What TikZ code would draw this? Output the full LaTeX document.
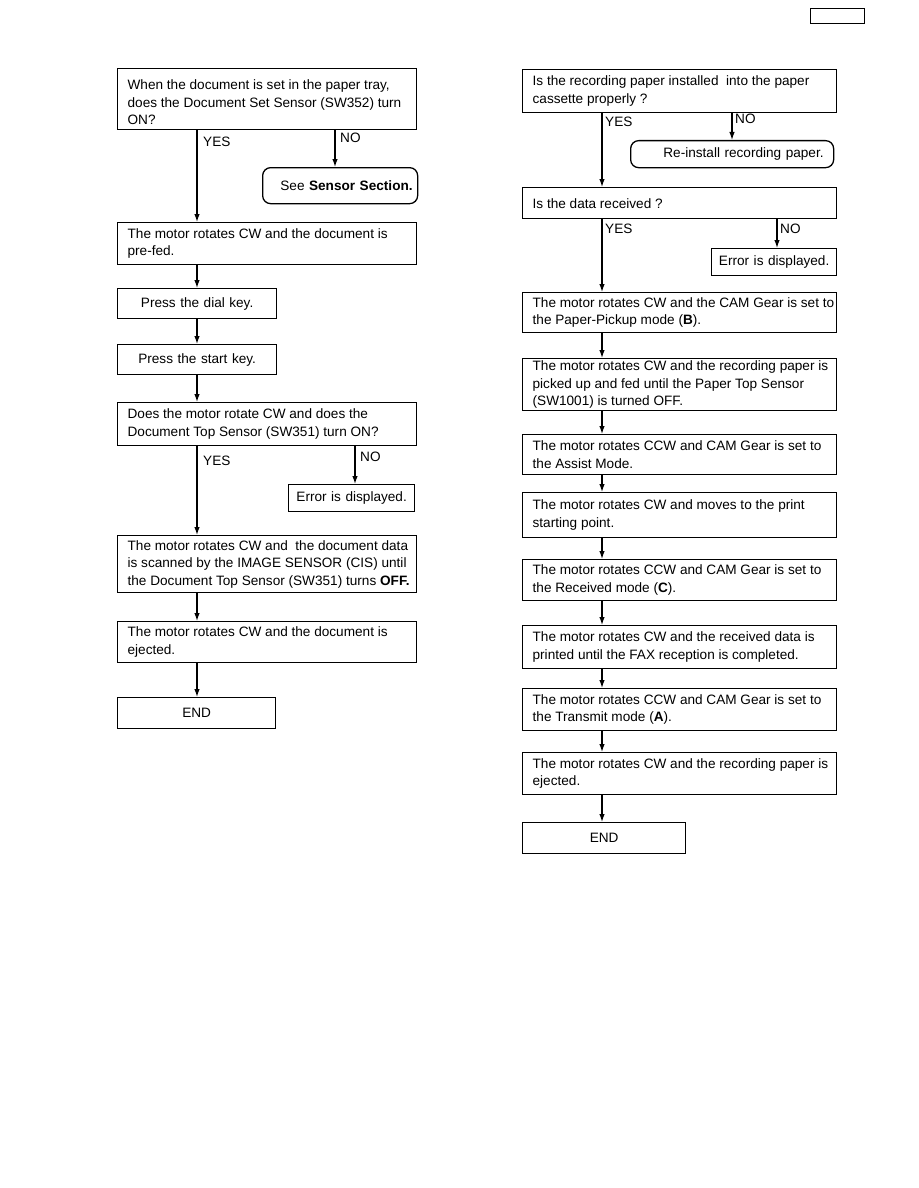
\documentclass[tikz,border=0pt]{standalone}
\usepackage{fontspec}
\setmainfont{Liberation Sans}
\usetikzlibrary{arrows.meta}
\newcommand\bt[2]{\hspace*{10pt}\parbox{#1}{\raggedright #2}}
\tikzset{
  box/.style={draw, line width=1.3pt, inner xsep=0pt, inner ysep=1pt, anchor=north west,
    font=\fontsize{13.6}{17.5}\selectfont},
  cbox/.style={draw, line width=1.3pt, inner xsep=0pt, inner ysep=1pt, anchor=north west, align=center,
    font=\fontsize{13.6}{17.5}\selectfont},
  rbox/.style={draw, line width=1.3pt, rounded corners=8pt, inner xsep=0pt, inner ysep=1pt, anchor=north west, align=right,
    font=\fontsize{13.6}{17.5}\selectfont},
  lbl/.style={anchor=west, inner sep=0pt, font=\fontsize{13.6}{17.5}\selectfont},
  arr/.style={-{Latex[length=8pt,width=5.5pt]}, line width=1.2pt}
}
\begin{document}
\begin{tikzpicture}[x=1pt,y=-1pt]
\useasboundingbox (0,0) rectangle (918,1188);
% header box
\node[draw, line width=1.2pt, anchor=north west, minimum width=54pt, minimum height=15pt, inner sep=0pt] (hdr) at (810,8) {};

% ---------------- left column ----------------
\node[box, minimum width=299pt, minimum height=61pt] (b1) at (117,68)
  {\bt{289pt}{\vspace*{6pt}When the document is set in the paper tray,\\does the Document Set Sensor (SW352) turn\\ON?}};
\node[rbox, text width=145pt, minimum width=155pt, minimum height=36pt] (s1) at (262,167)
  {See \textbf{Sensor Section.}};
\node[box, minimum width=299pt, minimum height=42pt] (b2) at (117,222)
  {\bt{289pt}{The motor rotates CW and the document is\\pre-fed.}};
\node[cbox, text width=159pt, minimum height=30pt] (b3) at (117,288) {Press the dial key.};
\node[cbox, text width=159pt, minimum height=30pt] (b4) at (117,344) {Press the start key.};
\node[box, minimum width=299pt, minimum height=43pt] (b5) at (117,402)
  {\bt{289pt}{Does the motor rotate CW and does the\\Document Top Sensor (SW351) turn ON?}};
\node[cbox, text width=126pt, minimum height=27pt] (e1) at (288,484) {Error is displayed.};
\node[box, minimum width=299pt, minimum height=57pt] (b6) at (117,535)
  {\bt{289pt}{The motor rotates CW and \ the document data\\is scanned by the IMAGE SENSOR (CIS) until\\the Document Top Sensor (SW351) turns \textbf{OFF.}}};
\node[box, minimum width=299pt, minimum height=41pt] (b7) at (117,621)
  {\bt{289pt}{The motor rotates CW and the document is\\ejected.}};
\node[cbox, text width=158pt, minimum height=31pt] (end1) at (117,697) {END};

\draw[arr] ([xshift=80pt]b1.south west) -- ([xshift=80pt]b1.south west |- b2.north);
\draw[arr] ([xshift=218pt]b1.south west) -- ([xshift=218pt]b1.south west |- s1.north);
\draw[arr] ([xshift=80pt]b2.south west) -- ([xshift=80pt]b2.south west |- b3.north);
\draw[arr] ([xshift=80pt]b3.south west) -- ([xshift=80pt]b3.south west |- b4.north);
\draw[arr] ([xshift=80pt]b4.south west) -- ([xshift=80pt]b4.south west |- b5.north);
\draw[arr] ([xshift=80pt]b5.south west) -- ([xshift=80pt]b5.south west |- b6.north);
\draw[arr] ([xshift=238pt]b5.south west) -- ([xshift=238pt]b5.south west |- e1.north);
\draw[arr] ([xshift=80pt]b6.south west) -- ([xshift=80pt]b6.south west |- b7.north);
\draw[arr] ([xshift=80pt]b7.south west) -- ([xshift=80pt]b7.south west |- end1.north);

\node[lbl] (y1) at (203,142) {YES};
\node[lbl] (n1) at (340,138) {NO};
\node[lbl] (y2) at (203,461) {YES};
\node[lbl] (n2) at (360,457) {NO};

% ---------------- right column ----------------
\node[box, minimum width=314pt, minimum height=43pt] (r1) at (522,69)
  {\bt{304pt}{Is the recording paper installed \ into the paper\\cassette properly ?}};
\node[rbox, text width=183pt, minimum width=203pt, minimum height=27pt] (rr) at (630,140)
  {Re-install recording paper.};
\node[box, minimum width=314pt, minimum height=31pt] (r2) at (522,187)
  {\bt{304pt}{Is the data received ?}};
\node[cbox, text width=125pt, minimum height=27pt] (e2) at (711,248) {Error is displayed.};
\node[box, minimum width=314pt, minimum height=40pt] (r3) at (522,292)
  {\bt{304pt}{The motor rotates CW and the CAM Gear is set to\\the Paper-Pickup mode (\textbf{B}).}};
\node[box, minimum width=314pt, minimum height=52pt] (r4) at (522,358)
  {\bt{304pt}{The motor rotates CW and the recording paper is\\picked up and fed until the Paper Top Sensor\\(SW1001) is turned OFF.}};
\node[box, minimum width=314pt, minimum height=40pt] (r5) at (522,434)
  {\bt{304pt}{The motor rotates CCW and CAM Gear is set to\\the Assist Mode.}};
\node[box, minimum width=314pt, minimum height=45pt] (r6) at (522,492)
  {\bt{304pt}{The motor rotates CW and moves to the print\\starting point.}};
\node[box, minimum width=314pt, minimum height=41pt] (r7) at (522,559)
  {\bt{304pt}{The motor rotates CCW and CAM Gear is set to\\the Received mode (\textbf{C}).}};
\node[box, minimum width=314pt, minimum height=43pt] (r8) at (522,625)
  {\bt{304pt}{The motor rotates CW and the received data is\\printed until the FAX reception is completed.}};
\node[box, minimum width=314pt, minimum height=42pt] (r9) at (522,688)
  {\bt{304pt}{The motor rotates CCW and CAM Gear is set to\\the Transmit mode (\textbf{A}).}};
\node[box, minimum width=314pt, minimum height=42pt] (r10) at (522,752)
  {\bt{304pt}{The motor rotates CW and the recording paper is\\ejected.}};
\node[cbox, text width=163pt, minimum height=31pt] (end2) at (522,822) {END};

\draw[arr] ([xshift=80pt]r1.south west) -- ([xshift=80pt]r1.south west |- r2.north);
\draw[arr] ([xshift=210pt]r1.south west) -- ([xshift=210pt]r1.south west |- rr.north);
\draw[arr] ([xshift=80pt]r2.south west) -- ([xshift=80pt]r2.south west |- r3.north);
\draw[arr] ([xshift=255pt]r2.south west) -- ([xshift=255pt]r2.south west |- e2.north);
\draw[arr] ([xshift=80pt]r3.south west) -- ([xshift=80pt]r3.south west |- r4.north);
\draw[arr] ([xshift=80pt]r4.south west) -- ([xshift=80pt]r4.south west |- r5.north);
\draw[arr] ([xshift=80pt]r5.south west) -- ([xshift=80pt]r5.south west |- r6.north);
\draw[arr] ([xshift=80pt]r6.south west) -- ([xshift=80pt]r6.south west |- r7.north);
\draw[arr] ([xshift=80pt]r7.south west) -- ([xshift=80pt]r7.south west |- r8.north);
\draw[arr] ([xshift=80pt]r8.south west) -- ([xshift=80pt]r8.south west |- r9.north);
\draw[arr] ([xshift=80pt]r9.south west) -- ([xshift=80pt]r9.south west |- r10.north);
\draw[arr] ([xshift=80pt]r10.south west) -- ([xshift=80pt]r10.south west |- end2.north);

\node[lbl] (y3) at (605,122) {YES};
\node[lbl] (n3) at (735,119) {NO};
\node[lbl] (y4) at (605,229) {YES};
\node[lbl] (n4) at (780,229) {NO};
\end{tikzpicture}
\end{document}
